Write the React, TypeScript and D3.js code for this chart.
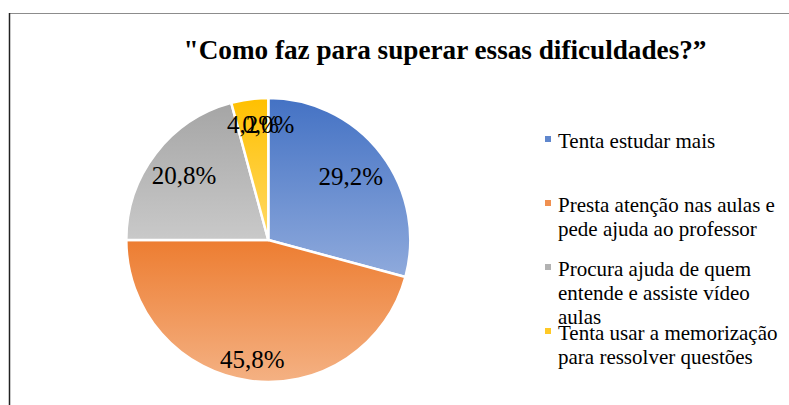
import React from "react";
import * as d3 from "d3";

const title = "\"Como faz para superar essas dificuldades?”";
const categories = [
  "Tenta estudar mais",
  "Presta atenção nas aulas e pede ajuda ao professor",
  "Procura ajuda de quem entende e assiste vídeo aulas",
  "Tenta usar a memorização para ressolver questões",
  "",
];
const legendLines = [
  ["Tenta estudar mais"],
  ["Presta atenção nas aulas e", "pede ajuda ao professor"],
  ["Procura ajuda de quem", "entende e assiste vídeo", "aulas"],
  ["Tenta usar a memorização", "para ressolver questões"],
];
const values = [29.2, 45.8, 20.8, 4.2, 0.0];
const labels = ["29,2%", "45,8%", "20,8%", "4,2%", "0,0%"];

const colorsTop = ["#4472C4", "#ED7D31", "#A5A5A5", "#FFC000", "#5B9BD5"];
const colorsBottom = ["#8FAADC", "#F4B183", "#C9C9C9", "#FFD966", "#9DC3E6"];
const labelRadius = [104, 121, 106, 117, 116];

const FONT = "'Liberation Serif', 'Times New Roman', serif";

export default function App() {
  const W = 789;
  const H = 405;
  const cx = 268.3;
  const cy = 240;
  const R = 142;

  const pie = d3.pie<number>().sort(null).value((d) => d);
  const arcs = pie(values);
  const arcGen = d3.arc<d3.PieArcDatum<number>>().innerRadius(0).outerRadius(R);

  const legendX = 545;
  const legendY0 = 148;
  const legendStep = 64;
  const lineH = 24;

  return (
    <svg
      width={W}
      height={H}
      style={{ position: "absolute", left: 0, top: 0, background: "#fff", fontFamily: FONT }}
    >
      <defs>
        {colorsTop.map((c, i) => (
          <linearGradient key={i} id={`g${i}`} x1="0" y1="0" x2="0" y2="1">
            <stop offset="0" stopColor={c} />
            <stop offset="1" stopColor={colorsBottom[i]} />
          </linearGradient>
        ))}
      </defs>
      <rect x={0} y={0} width={W} height={H} fill="#fff" />
      <line x1={9} x2={W} y1={13.5} y2={13.5} stroke="#8c8c8c" strokeWidth={1} />
      <line x1={9.5} x2={9.5} y1={13} y2={H} stroke="#222" strokeWidth={1.5} />

      <text x={445} y={59} textAnchor="middle" fontSize={27.2} fontWeight="bold" fill="#000" style={{ fontFamily: FONT }}>
        {title}
      </text>

      <g transform={`translate(${cx},${cy})`}>
        {arcs.map((a, i) =>
          a.endAngle - a.startAngle > 0 ? (
            <path key={i} d={arcGen(a) || ""} fill={`url(#g${i})`} stroke="#fff" strokeWidth={2.5} strokeLinejoin="round" />
          ) : null
        )}
        {arcs.map((a, i) => {
          const mid = (a.startAngle + a.endAngle) / 2;
          const r = labelRadius[i];
          const x = r * Math.sin(mid);
          const y = -r * Math.cos(mid);
          return (
            <text key={`l${i}`} x={x} y={y + 8.5} textAnchor="middle" fontSize={25} fill="#000" style={{ fontFamily: FONT }}>
              {labels[i]}
            </text>
          );
        })}
      </g>

      {legendLines.map((lines, i) => {
        const by = legendY0 + i * legendStep;
        return (
          <g key={`lg${i}`}>
            <rect x={legendX} y={by - 12} width={6} height={6} fill={colorsTop[i]} opacity={0.85} />
            <text x={558} y={by} fontSize={21} fill="#000" style={{ fontFamily: FONT }}>
              {lines.map((ln, j) => (
                <tspan key={j} x={558} y={by + j * lineH}>
                  {ln}
                </tspan>
              ))}
            </text>
          </g>
        );
      })}
    </svg>
  );
}
